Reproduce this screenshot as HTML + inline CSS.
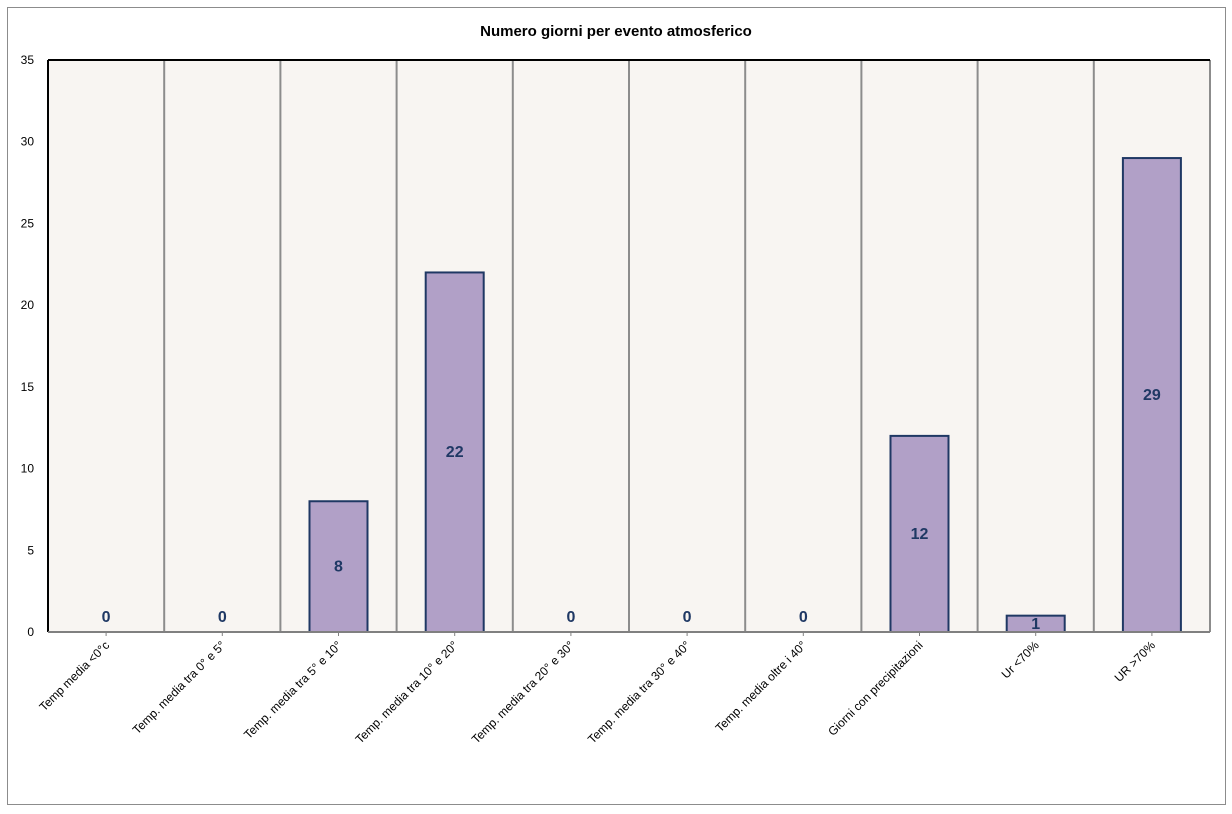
<!DOCTYPE html>
<html><head><meta charset="utf-8"><style>
body{margin:0;background:#fff;font-family:"Liberation Sans","DejaVu Sans",sans-serif;}
svg text{font-family:"Liberation Sans","DejaVu Sans",sans-serif;}
</style></head><body>
<svg id="chart" width="1232" height="809" xmlns="http://www.w3.org/2000/svg">
<rect x="7.5" y="7.5" width="1218" height="797" fill="#fff" stroke="#8c8c8c"/>
<text x="616" y="36" text-anchor="middle" font-size="15" font-weight="bold" fill="#000">Numero giorni  per evento atmosferico</text>
<rect x="48" y="60" width="1162" height="572" fill="#f8f5f2"/>
<g id="grid"></g><g id="bars"></g><g id="yaxis"></g><g id="xaxis"></g>
<line x1="48" y1="60" x2="1210" y2="60" stroke="#000" stroke-width="2"/>
<line x1="48" y1="60" x2="48" y2="632" stroke="#000" stroke-width="2"/>
<line x1="48" y1="632" x2="1210" y2="632" stroke="#808080" stroke-width="2"/>
</svg>
<script>
const categories=["Temp media <0°c","Temp. media tra 0° e 5°","Temp. media tra 5° e 10°","Temp. media tra 10° e 20°","Temp. media tra 20° e 30°","Temp. media tra 30° e 40°","Temp. media oltre i 40°","Giorni con precipitazioni","Ur  <70%","UR >70%"];
const values=[0,0,8,22,0,0,0,12,1,29];
const yTicks=[0,5,10,15,20,25,30,35];
const NS="http://www.w3.org/2000/svg";
const L=48,R=1210,T=60,B=632,yMax=35;
const bw=(R-L)/categories.length;
const y=v=>B-(v/yMax)*(B-T);
const xc=i=>L+bw*(i+0.5);
function mk(tag,attrs,parent){const e=document.createElementNS(NS,tag);for(const k in attrs)e.setAttribute(k,attrs[k]);parent.appendChild(e);return e;}
const grid=document.getElementById('grid'),bars=document.getElementById('bars'),ya=document.getElementById('yaxis'),xa=document.getElementById('xaxis');
for(let i=1;i<categories.length;i++){
 const gl=mk('line',{x1:L+bw*i,x2:L+bw*i,y1:T,y2:B,stroke:'#8c8c8c','stroke-width':2},grid);
 
 
}
mk('line',{x1:R,x2:R,y1:T,y2:B,stroke:'#8c8c8c','stroke-width':2},grid);
yTicks.forEach(t=>{
 const tx=mk('text',{x:34,y:y(t)+4,'text-anchor':'end','font-size':12,fill:'#000'},ya);
 tx.textContent=t;
 
 
});
categories.forEach((c,i)=>{
 const v=values[i];
 if(v>0){
  const r=mk('rect',{x:xc(i)-29,y:y(v),width:58,height:B-y(v),fill:'#b1a0c7',stroke:'#1f3864','stroke-width':2},bars);
  
  
 }
 const ly=v>0?(y(v)+B)/2+5:B-10;
 const lb=mk('text',{x:xc(i),y:ly,'text-anchor':'middle','font-size':16,'font-weight':'bold',fill:'#1f3864'},bars);
 lb.textContent=v;
 
 
 const tk=mk('line',{x1:xc(i),x2:xc(i),y1:B,y2:B+4,stroke:'#808080'},xa);
 
 
 const cl=mk('text',{x:xc(i)+4,y:B+14,'text-anchor':'end','font-size':12,fill:'#000',transform:`rotate(-45 ${xc(i)+4} ${B+14})`},xa);
 cl.textContent=c;
 
 
});
</script>
</body></html>
